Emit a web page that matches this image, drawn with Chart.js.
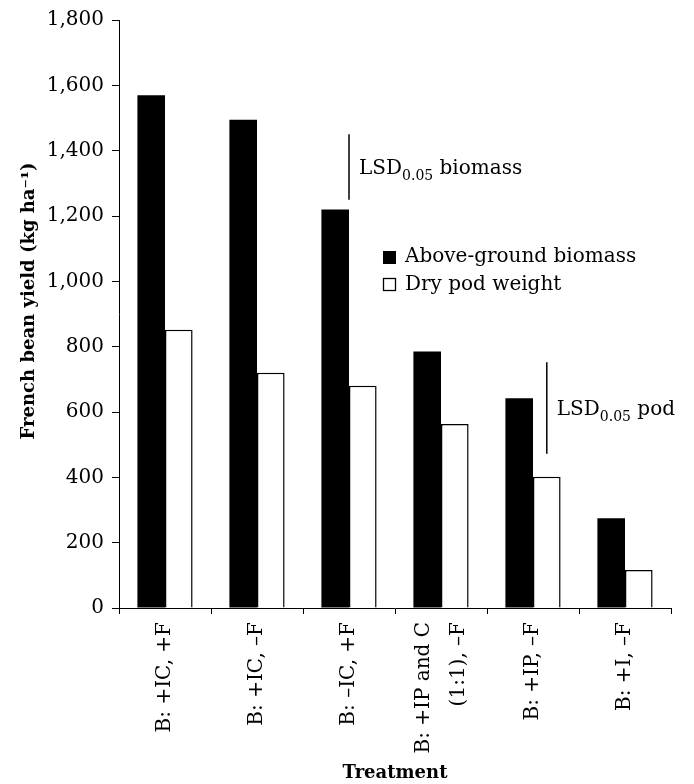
<!DOCTYPE html>
<html>
<head>
<meta charset="utf-8">
<script src="https://cdn.jsdelivr.net/npm/chart.js@4.4.0/dist/chart.umd.min.js"></script>
<style>
  html, body { margin: 0; padding: 0; background: #fff; }
</style>
</head>
<body>
<canvas id="bar-chart" width="694" height="784"></canvas>
<script>
// data
const treatments = [
  'B: +IC, +F',
  'B: +IC, \u2013F',
  'B: \u2013IC, +F',
  ['B: +IP and C', '(1:1), \u2013F'],
  'B: +IP, \u2013F',
  'B: +I, \u2013F'
];
const biomass = [1570, 1495, 1220, 785, 642, 275];
const podWeight = [852, 720, 680, 563, 402, 116];
const yTicks = [0, 200, 400, 600, 800, 1000, 1200, 1400, 1600, 1800];
const lsdBiomass = [1250, 1450];
const lsdPod = [472, 752];
const yTitle = 'French bean yield (kg ha\u207B\u00B9)';

const FONT = "'DejaVu Serif', serif";
Chart.defaults.font.family = FONT;
Chart.defaults.font.size = 20;
Chart.defaults.color = '#000';

// LSD bars, subscript text, legend, y title and the two-line tick label
const extras = {
  id: 'extras',
  afterDraw(chart) {
    const ctx = chart.ctx;
    const x = chart.scales.x;
    const y = chart.scales.y;

    function lsd(px, vals, word) {
      const top = y.getPixelForValue(vals[1]);
      const bot = y.getPixelForValue(vals[0]);
      ctx.save();
      ctx.strokeStyle = '#000';
      ctx.lineWidth = 1.5;
      ctx.beginPath();
      ctx.moveTo(px, top);
      ctx.lineTo(px, bot);
      ctx.stroke();
      const base = (top + bot) / 2 + 7;
      let tx = px + 10;
      ctx.fillStyle = '#000';
      ctx.textBaseline = 'alphabetic';
      ctx.textAlign = 'left';
      ctx.font = '20px ' + FONT;
      ctx.fillText('LSD', tx, base);
      tx += ctx.measureText('LSD').width;
      ctx.font = '14px ' + FONT;
      ctx.fillText('0.05', tx, base + 6);
      tx += ctx.measureText('0.05').width;
      ctx.font = '20px ' + FONT;
      ctx.fillText(' ' + word, tx, base);
      ctx.restore();
    }
    lsd(x.getPixelForValue(2), lsdBiomass, 'biomass');
    lsd(chart.getDatasetMeta(1).data[4].x, lsdPod, 'pod');

    // legend
    ctx.save();
    ctx.font = '20px ' + FONT;
    ctx.textBaseline = 'middle';
    ctx.textAlign = 'left';
    const rows = [257, 285];
    chart.data.datasets.forEach((ds, i) => {
      const ry = rows[i];
      if (i === 0) {
        ctx.fillStyle = '#000';
        ctx.fillRect(383, ry - 6, 13, 13);
      } else {
        ctx.strokeStyle = '#000';
        ctx.lineWidth = 1.3;
        ctx.strokeRect(383.5, ry - 6.5, 12, 12);
      }
      ctx.fillStyle = '#000';
      ctx.fillText(ds.label, 405, ry);
    });
    ctx.restore();

    // y axis title (sits a little above the plot centre in the original)
    ctx.save();
    ctx.font = 'bold 18px ' + FONT;
    ctx.fillStyle = '#000';
    ctx.textAlign = 'center';
    ctx.textBaseline = 'middle';
    ctx.translate(29, 301);
    ctx.rotate(-Math.PI / 2);
    ctx.fillText(yTitle, 0, 0);
    ctx.restore();

    // two-line category label, lines straddling the tick
    const lines = treatments[3];
    const cx = x.getPixelForValue(3);
    const gap = 35;
    ctx.save();
    ctx.font = '20px ' + FONT;
    ctx.fillStyle = '#000';
    ctx.textAlign = 'right';
    ctx.textBaseline = 'middle';
    lines.forEach((t, i) => {
      ctx.save();
      ctx.translate(cx + (i - (lines.length - 1) / 2) * gap, x.top + 14);
      ctx.rotate(-Math.PI / 2);
      ctx.fillText(t, 0, 0);
      ctx.restore();
    });
    ctx.restore();
  }
};

new Chart(document.getElementById('bar-chart'), {
  type: 'bar',
  data: {
    labels: treatments,
    datasets: [
      {
        label: 'Above-ground biomass',
        data: biomass,
        backgroundColor: '#000',
        borderWidth: 0
      },
      {
        label: 'Dry pod weight',
        data: podWeight,
        backgroundColor: '#fff',
        borderColor: '#000',
        borderWidth: 1.5
      }
    ]
  },
  options: {
    responsive: false,
    animation: false,
    layout: { padding: { top: 19, right: 23, left: 0, bottom: 0 } },
    datasets: { bar: { categoryPercentage: 0.6, barPercentage: 1 } },
    plugins: {
      legend: { display: false },
      tooltip: { enabled: false }
    },
    scales: {
      x: {
        grid: { display: true, drawOnChartArea: false, tickLength: 6, color: '#000', offset: true },
        border: { display: true, color: '#000', width: 1 },
        ticks: {
          autoSkip: false,
          minRotation: 90,
          maxRotation: 90,
          padding: 8,
          color: (c) => (c.index === 3 ? 'rgba(0,0,0,0)' : '#000')
        },
        title: {
          display: true,
          text: 'Treatment',
          font: { weight: 'bold', size: 18 },
          padding: { top: 0, bottom: 0 }
        },
        afterFit: (s) => { s.height = 176; }
      },
      y: {
        min: 0,
        max: 1800,
        afterBuildTicks: (s) => { s.ticks = yTicks.map(v => ({ value: v })); },
        grid: { display: true, drawOnChartArea: false, tickLength: 7, color: '#000' },
        border: { display: true, color: '#000', width: 1 },
        ticks: {
          padding: 8,
          callback: (v) => v.toLocaleString('en-US')
        },
        afterFit: (s) => { s.width = 119; }
      }
    }
  },
  plugins: [extras]
});
</script>
</body>
</html>
